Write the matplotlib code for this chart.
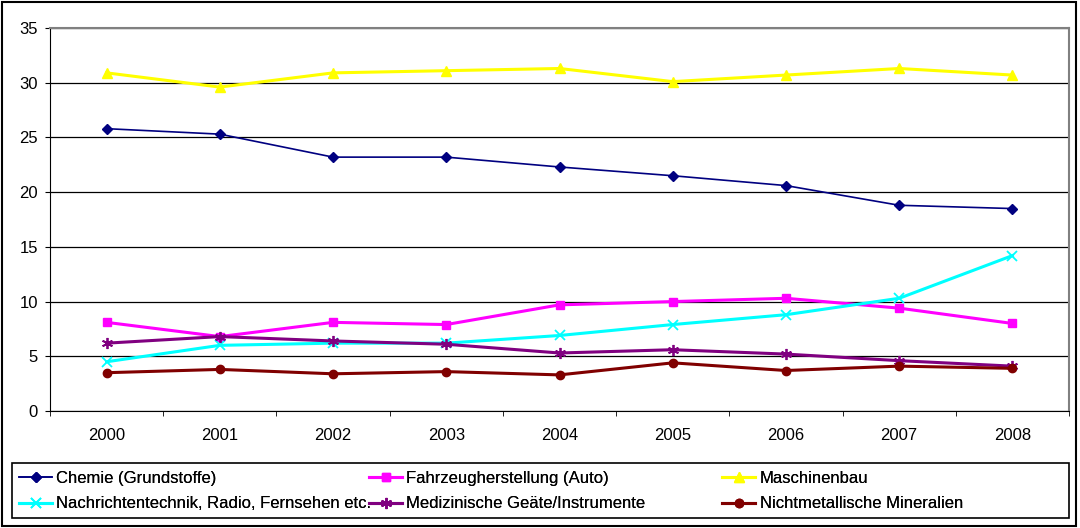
import matplotlib
matplotlib.use("Agg")
import matplotlib.pyplot as plt
from matplotlib.patches import Rectangle

plt.rcParams['font.family'] = ['Liberation Sans', 'DejaVu Sans']

years = ["2000", "2001", "2002", "2003", "2004", "2005", "2006", "2007", "2008"]

chemie = [25.8, 25.3, 23.2, 23.2, 22.3, 21.5, 20.6, 18.8, 18.5]
fahrzeug = [8.1, 6.8, 8.1, 7.9, 9.7, 10.0, 10.3, 9.4, 8.0]
maschinen = [30.9, 29.6, 30.9, 31.1, 31.3, 30.1, 30.7, 31.3, 30.7]
nachrichten = [4.5, 6.0, 6.2, 6.2, 6.9, 7.9, 8.8, 10.3, 14.2]
medizin = [6.2, 6.8, 6.4, 6.1, 5.3, 5.6, 5.2, 4.6, 4.1]
mineralien = [3.5, 3.8, 3.4, 3.6, 3.3, 4.4, 3.7, 4.1, 3.9]

W, H = 1080, 528
fig = plt.figure(figsize=(W / 100, H / 100), dpi=100)
ax = fig.add_axes([50 / W, 1 - 411 / H, 1019 / W, 383 / H])

x = range(len(years))
l1, = ax.plot(x, chemie, color="#000080", lw=1.2, marker="D", ms=5, label="Chemie (Grundstoffe)")
l2, = ax.plot(x, fahrzeug, color="#FF00FF", lw=2.2, marker="s", ms=6, label="Fahrzeugherstellung (Auto)")
l3, = ax.plot(x, maschinen, color="#FFFF00", lw=2.2, marker="^", ms=7, label="Maschinenbau")
l4, = ax.plot(x, nachrichten, color="#00FFFF", lw=2.2, marker="x", ms=7, mew=1.3,
              label="Nachrichtentechnik, Radio, Fernsehen etc.")
l5, = ax.plot(x, medizin, color="#800080", lw=2.2, marker=(6, 2, 0), ms=8, mew=1.3,
              label="Medizinische Geäte/Instrumente", zorder=2.5)
l6, = ax.plot(x, mineralien, color="#800000", lw=2.2, marker="o", ms=6, label="Nichtmetallische Mineralien",
              zorder=2.6)

ax.set_xlim(-0.5, len(years) - 0.5)
ax.set_ylim(0, 35)
ax.set_yticks(range(0, 36, 5))
ax.set_xticks(range(len(years)))
ax.set_xticklabels(years)
ax.set_xticks([i - 0.5 for i in range(len(years) + 1)], minor=True)
ax.tick_params(axis="x", which="major", length=0, pad=12, labelsize=12)
ax.tick_params(axis="x", which="minor", length=3.5, direction="out", color="black")
ax.tick_params(axis="y", length=3.6, pad=5, labelsize=12, color="black")
ax.yaxis.grid(True, color="black", lw=0.9)
ax.set_axisbelow(True)
for s in ["top", "right"]:
    ax.spines[s].set_color("#808080")
    ax.spines[s].set_linewidth(1.5)
for s in ["left", "bottom"]:
    ax.spines[s].set_color("black")

# legend frame + three single-column legends (columns are equally spaced in the original)
fig.patches.append(Rectangle((12 / W, 1 - 518 / H), 1057 / W, 55 / H, transform=fig.transFigure,
                             fill=False, edgecolor="black", lw=1.2))
columns = [([l1, l4], 19), ([l2, l5], 369), ([l3, l6], 722)]
for hs, xpos in columns:
    leg = fig.legend(handles=hs, labels=[h.get_label() for h in hs], loc="upper left",
                     bbox_to_anchor=(xpos / W, 1 - 471 / H), frameon=False, fontsize=12,
                     handlelength=2.0, handletextpad=0.25, borderpad=0, borderaxespad=0,
                     labelspacing=0.62)
    fig.add_artist(leg)

# outer border
fig.patches.append(Rectangle((2 / W, 2 / H), 1074 / W, 524 / H, transform=fig.transFigure,
                             fill=False, edgecolor="black", lw=1.5))

fig.savefig("out.png", dpi=100)
